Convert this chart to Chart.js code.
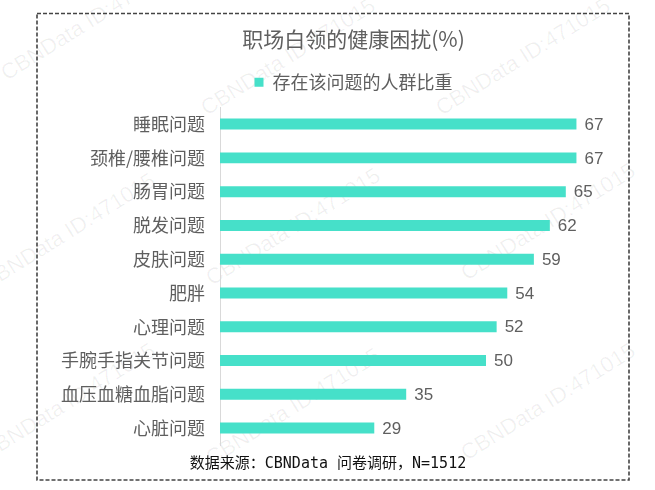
<!DOCTYPE html>
<html>
<head>
<meta charset="utf-8">
<script src="https://cdn.jsdelivr.net/npm/chart.js@4"></script>
<style>
  body { margin: 0; background: #fff; }
  #wrap { position: relative; width: 655px; height: 490px; overflow: hidden; }
  #frame { position: absolute; left: 0; top: 0; }
  #box { position: absolute; left: 38px; top: 14px; width: 617px; height: 440px; }
  .wm { position: absolute; font: 22px "Liberation Sans", Arial, sans-serif; color: rgba(0,0,0,0.06);
        transform: rotate(-32deg); transform-origin: left bottom; white-space: nowrap; }
  #source { position: absolute; left: 0; width: 656px; top: 451px; line-height: 20px; text-align: center;
            font: 15px "DejaVu Sans Mono", "Noto Sans CJK SC", monospace; color: #111; }
</style>
</head>
<body>
<div id="wrap">
  <div class="wm" style="left:10px; top:60px;">CBNData ID:471015</div>
  <div class="wm" style="left:210px; top:95px;">CBNData ID:471015</div>
  <div class="wm" style="left:445px; top:95px;">CBNData ID:471015</div>
  <div class="wm" style="left:-10px; top:270px;">CBNData ID:471015</div>
  <div class="wm" style="left:215px; top:265px;">CBNData ID:471015</div>
  <div class="wm" style="left:470px; top:260px;">CBNData ID:471015</div>
  <div class="wm" style="left:-10px; top:440px;">CBNData ID:471015</div>
  <div class="wm" style="left:215px; top:445px;">CBNData ID:471015</div>
  <div class="wm" style="left:470px; top:440px;">CBNData ID:471015</div>
  <svg id="frame" width="655" height="490">
    <rect x="37" y="13.5" width="592" height="466.5" fill="none" stroke="#444" stroke-width="1.6" stroke-dasharray="4 2"/>
  </svg>
  <div id="box"><canvas id="healthChart"></canvas></div>
  <div id="source">数据来源：CBNData 问卷调研，N=1512</div>
</div>
<script>
// categories and values (%)
const categories = ['睡眠问题', '颈椎/腰椎问题', '肠胃问题', '脱发问题', '皮肤问题', '肥胖', '心理问题', '手腕手指关节问题', '血压血糖血脂问题', '心脏问题'];
const shares = [67, 67, 65, 62, 59, 54, 52, 50, 35, 29];
const seriesName = '存在该问题的人群比重';
const chartTitle = '职场白领的健康困扰(%)';

const barColor = '#46e0c9';
const textColor = '#5f5f5f';
const cjk = '"Noto Sans CJK SC", "Noto Sans", sans-serif';

// value labels at the end of each bar
const valueLabels = {
  id: 'valueLabels',
  afterDatasetsDraw(chart) {
    const ctx = chart.ctx;
    ctx.save();
    ctx.font = '17px "Liberation Sans", Arial, sans-serif';
    ctx.fillStyle = textColor;
    ctx.textAlign = 'left';
    ctx.textBaseline = 'middle';
    chart.getDatasetMeta(0).data.forEach((bar, i) => {
      ctx.fillText(chart.data.datasets[0].data[i], bar.x + 8, bar.y + 1);
    });
    ctx.restore();
  }
};

// a little more room under the legend
const legendGap = {
  id: 'legendGap',
  beforeInit(chart) {
    const fitLegend = chart.legend.fit;
    chart.legend.fit = function () {
      fitLegend.call(this);
      this.height += 6;
    };
  }
};

new Chart(document.getElementById('healthChart'), {
  type: 'bar',
  data: {
    labels: categories,
    datasets: [{
      label: seriesName,
      data: shares,
      backgroundColor: barColor,
      borderWidth: 0,
      barPercentage: 0.65,
      categoryPercentage: 0.5
    }]
  },
  options: {
    indexAxis: 'y',
    responsive: true,
    maintainAspectRatio: false,
    animation: false,
    layout: { padding: { left: 14, right: 0, top: 0, bottom: 9 } },
    scales: {
      x: { display: false, min: 0, max: 75 },
      y: {
        grid: { color: 'rgba(0,0,0,0)', drawTicks: false },
        border: { display: true, color: '#d9d9d9', width: 1 },
        ticks: { color: textColor, padding: 15, font: { family: cjk, size: 18 } },
        afterFit(scale) {
          scale.width = 168;
          scale.paddingTop = 0;
          scale.paddingBottom = 0;
        }
      },
      // empty box on the right so title and legend sit where the original has them
      yRight: {
        type: 'category',
        position: 'right',
        grid: { display: false },
        border: { display: false },
        ticks: { display: false },
        afterFit(scale) { scale.width = 36; }
      }
    },
    plugins: {
      title: {
        display: true,
        text: chartTitle,
        color: textColor,
        font: { family: cjk, size: 21, weight: 'normal' },
        padding: { top: 12, bottom: 12 }
      },
      legend: {
        display: true,
        labels: {
          color: textColor,
          boxWidth: 9,
          boxHeight: 9,
          font: { family: cjk, size: 18 }
        }
      },
      tooltip: { enabled: false }
    }
  },
  plugins: [valueLabels, legendGap]
});
</script>
</body>
</html>
